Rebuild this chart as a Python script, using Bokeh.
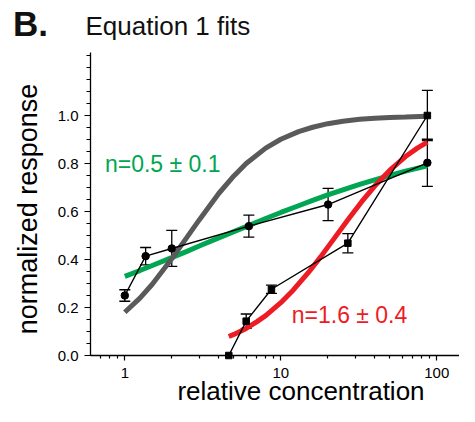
import math
from bokeh.plotting import figure
from bokeh.models import (ColumnDataSource, Whisker, TeeHead, Label, FixedTicker, Range1d)
from bokeh.embed import file_html
from bokeh.resources import INLINE

# ---- data ----
circ_x = [1.0, 1.36, 2.0, 6.24, 20.1, 87.0]
circ_y = [0.25, 0.414, 0.446, 0.539, 0.629, 0.803]
circ_err = [0.024, 0.036, 0.075, 0.046, 0.067, 0.098]

sq_x = [4.64, 6.0, 8.71, 26.9, 87.0]
sq_y = [0.0, 0.143, 0.276, 0.468, 1.0]
sq_err = [0.0, 0.03, 0.017, 0.04, 0.105]

fit_x = [1.0, 1.25, 1.5, 2.0, 2.5, 3.0, 4.0, 5.0, 6.0, 8.0, 10.0, 13.0, 16.0,
         20.0, 25.0, 32.0, 40.0, 50.0, 63.0, 87.0]
green_y = [0.330, 0.354, 0.375, 0.408, 0.434, 0.456, 0.490, 0.516, 0.537, 0.571,
           0.596, 0.624, 0.646, 0.669, 0.690, 0.713, 0.732, 0.750, 0.768, 0.790]
gray_y = [0.180, 0.239, 0.297, 0.403, 0.492, 0.565, 0.675, 0.748, 0.800, 0.864,
          0.901, 0.933, 0.951, 0.966, 0.976, 0.984, 0.989, 0.992, 0.994, 0.997]

red_x = [4.64, 5.0, 6.0, 7.0, 8.0, 10.0, 12.0, 15.0, 18.0, 22.0, 27.0, 33.0,
         40.0, 50.0, 63.0, 75.0, 87.0]
red_y = [0.079, 0.088, 0.113, 0.140, 0.166, 0.220, 0.272, 0.345, 0.411, 0.488,
         0.567, 0.641, 0.706, 0.772, 0.829, 0.864, 0.889]

x_ticks = [1, 10, 100]
x_minor = [0.7, 0.8, 0.9, 2, 3, 4, 5, 6, 7, 8, 9, 20, 30, 40, 50, 60, 70, 80, 90]
y_ticks = [0.0, 0.2, 0.4, 0.6, 0.8, 1.0]
y_minor = [round(0.05 * i, 2) for i in range(0, 26)]

title_panel = "B."
title_text = "Equation 1 fits"
x_label = "relative concentration"
y_label = "normalized response"
green_label = "n=0.5 \u00b1 0.1"
red_label = "n=1.6 \u00b1 0.4"

FONT = "Liberation Sans"
GREEN = "#00A651"
RED = "#ED1C24"
GRAY = "#5a5a5a"

W, H = 459, 406
# axis extents (data units)
X_AXIS_START, X_AXIS_END = 0.603, 139.8
Y_AXIS_TOP = 1.2625

p = figure(width=W, height=H, x_axis_type="log",
           x_range=Range1d(0.15964, 139.8), y_range=Range1d(-0.2125, 1.47917),
           output_backend="svg", toolbar_location=None,
           min_border_left=0, min_border_right=0, min_border_top=0,
           min_border_bottom=0)
p.title.visible = False
p.outline_line_color = None
p.xgrid.visible = False
p.ygrid.visible = False
p.background_fill_color = "white"
p.border_fill_color = "white"

for ax in (p.xaxis[0], p.yaxis[0]):
    ax.axis_line_color = "black"
    ax.axis_line_width = 1.3
    ax.major_tick_line_color = "black"
    ax.minor_tick_line_color = "black"
    ax.major_tick_line_width = 1.2
    ax.minor_tick_line_width = 1.2
    ax.major_tick_in = 0
    ax.minor_tick_in = 0
    ax.major_label_text_font = FONT
    ax.major_label_text_font_size = "15px"
    ax.major_label_text_color = "black"

p.xaxis.ticker = FixedTicker(ticks=x_ticks, minor_ticks=x_minor)
p.xaxis.major_label_overrides = {1: "1", 10: "10", 100: "100"}
p.xaxis.major_tick_out = 5
p.xaxis.minor_tick_out = 3
p.xaxis.major_label_standoff = 7
p.xaxis.fixed_location = 0.0
p.xaxis.bounds = (X_AXIS_START, X_AXIS_END)

p.yaxis.ticker = FixedTicker(ticks=y_ticks, minor_ticks=y_minor)
p.yaxis.major_label_overrides = {v: f"{v:.1f}" for v in y_ticks}
p.yaxis.major_tick_out = 6
p.yaxis.minor_tick_out = 4
p.yaxis.major_label_standoff = 6
p.yaxis.fixed_location = X_AXIS_START
p.yaxis.bounds = (0.0, Y_AXIS_TOP)

# fitted curves
p.line(fit_x, green_y, line_color=GREEN, line_width=5)
p.line(fit_x, gray_y, line_color=GRAY, line_width=5)
p.line(red_x, red_y, line_color=RED, line_width=5)

# data connections
p.line(circ_x, circ_y, line_color="black", line_width=1.4)
p.line(sq_x, sq_y, line_color="black", line_width=1.4)

# error bars
def add_err(xs, ys, es):
    keep = [i for i, e in enumerate(es) if e > 0]
    src = ColumnDataSource(dict(
        x=[xs[i] for i in keep],
        lo=[ys[i] - es[i] for i in keep],
        hi=[ys[i] + es[i] for i in keep]))
    w = Whisker(base="x", lower="lo", upper="hi", source=src, dimension="height",
                line_color="black", line_width=1.3,
                upper_head=TeeHead(size=11, line_color="black", line_width=1.3),
                lower_head=TeeHead(size=11, line_color="black", line_width=1.3))
    p.add_layout(w)

add_err(circ_x, circ_y, circ_err)
add_err(sq_x, sq_y, sq_err)

p.scatter(circ_x, circ_y, marker="circle", size=7.5, fill_color="black", line_color="black")
p.scatter(sq_x, sq_y, marker="square", size=6.5, fill_color="black", line_color="black")

# curve labels
p.add_layout(Label(x=0.746, y=0.798, text=green_label, text_font=FONT,
                   text_font_size="23px", text_color=GREEN,
                   text_baseline="alphabetic", text_align="left"))
p.add_layout(Label(x=11.75, y=0.169, text=red_label, text_font=FONT,
                   text_font_size="23px", text_color=RED,
                   text_baseline="alphabetic", text_align="left"))

# title texts (screen units: from left / from bottom of the frame = canvas)
p.add_layout(Label(x=12.5, y=H - 22.5, x_units="screen", y_units="screen",
                   text=title_panel, text_font=FONT, text_font_style="bold",
                   text_font_size="35px", text_color="#111111",
                   text_baseline="alphabetic", text_align="left"))
p.add_layout(Label(x=85, y=H - 25.7, x_units="screen", y_units="screen",
                   text=title_text, text_font=FONT, text_font_size="26px",
                   text_color="#111111", text_baseline="alphabetic", text_align="left"))

# axis titles
p.add_layout(Label(x=300.5, y=H - 390.7, x_units="screen", y_units="screen",
                   text=x_label, text_font=FONT, text_font_size="26px",
                   text_color="black", text_baseline="alphabetic", text_align="center"))
p.add_layout(Label(x=27.5, y=H - 208.5, x_units="screen", y_units="screen",
                   angle=math.pi / 2, text=y_label, text_font=FONT,
                   text_font_size="27px", text_color="black",
                   text_baseline="alphabetic", text_align="center"))

open("out.html", "w").write(file_html(p, INLINE))
